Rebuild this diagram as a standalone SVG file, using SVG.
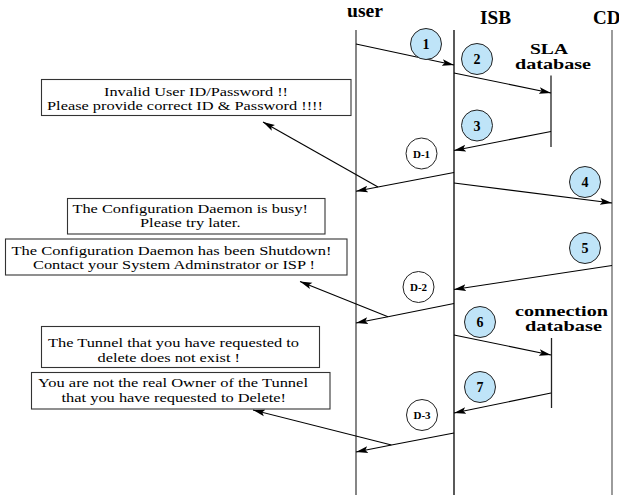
<svg xmlns="http://www.w3.org/2000/svg" width="619" height="499" viewBox="0 0 619 499">
  <defs>
    <style>
      .life { fill: none; stroke-width: 1.3; }
      .msg { fill: none; stroke: #000; stroke-width: 1.1; }
      .head { font-family: "Liberation Serif", "Times New Roman", serif; font-weight: bold; font-size: 19px; fill: #000; }
      .dbhead { font-family: "Liberation Serif", "Times New Roman", serif; font-weight: bold; font-size: 15px; fill: #000; }
      .box { fill: #fff; stroke: #333; stroke-width: 1.1; }
      .note { font-family: "Liberation Serif", "Times New Roman", serif; font-size: 13px; fill: #000; }
      .step { fill: #bfe4f8; stroke: #222; stroke-width: 1; }
      .err { fill: #fff; stroke: #222; stroke-width: 1; }
      .num { font-family: "Liberation Serif", "Times New Roman", serif; font-weight: bold; font-size: 14px; text-anchor: middle; fill: #000; }
      .dnum { font-family: "Liberation Serif", "Times New Roman", serif; font-weight: bold; font-size: 11px; text-anchor: middle; fill: #000; }
    </style>
    <marker id="ah" markerUnits="userSpaceOnUse" markerWidth="13" markerHeight="8" refX="12" refY="4" orient="auto">
      <path d="M0,0.6 L12,4 L0,7.4 L2.5,4 z" fill="#000"/>
    </marker>
  </defs>

  <!-- lifeline headers -->
  <g id="hdr-user"><text class="head" x="347" y="17" textLength="36" lengthAdjust="spacingAndGlyphs">user</text></g>
  <g id="hdr-isb"><text class="head" x="480" y="23.5" textLength="31" lengthAdjust="spacingAndGlyphs">ISB</text></g>
  <g id="hdr-cd"><text class="head" x="593" y="23.5">CD</text></g>
  <g id="hdr-sla">
    <text class="dbhead" x="530" y="54" textLength="38" lengthAdjust="spacingAndGlyphs">SLA</text>
    <text class="dbhead" x="515" y="69" textLength="76" lengthAdjust="spacingAndGlyphs">database</text>
  </g>
  <g id="hdr-conn">
    <text class="dbhead" x="515" y="316" textLength="93" lengthAdjust="spacingAndGlyphs">connection</text>
    <text class="dbhead" x="525" y="331" textLength="77" lengthAdjust="spacingAndGlyphs">database</text>
  </g>

  <!-- lifelines -->
  <g id="lifelines">
    <line class="life" x1="356" y1="30" x2="356" y2="495" stroke="#444"/>
    <line class="life" x1="454" y1="30" x2="454" y2="495" stroke="#000"/>
    <line class="life" x1="612" y1="30" x2="612" y2="495" stroke="#666"/>
    <line class="life" x1="551" y1="75.5" x2="551" y2="147" stroke="#222"/>
    <line class="life" x1="551.5" y1="338" x2="551.5" y2="408" stroke="#222"/>
  </g>

  <!-- message boxes -->
  <g id="note-invalid">
    <rect class="box" x="41.5" y="79.5" width="309.5" height="36"/>
    <text class="note" x="104" y="96" textLength="184" lengthAdjust="spacingAndGlyphs">Invalid User ID/Password !!</text>
    <text class="note" x="47" y="109.5" textLength="276" lengthAdjust="spacingAndGlyphs">Please provide correct ID &amp; Password !!!!</text>
  </g>
  <g id="note-busy">
    <rect class="box" x="67.5" y="198.5" width="257.5" height="35.5"/>
    <text class="note" x="72.5" y="213" textLength="235.5" lengthAdjust="spacingAndGlyphs">The Configuration Daemon is busy!</text>
    <text class="note" x="140" y="227" textLength="100.5" lengthAdjust="spacingAndGlyphs">Please try later.</text>
  </g>
  <g id="note-shutdown">
    <rect class="box" x="5.5" y="239" width="341.5" height="36"/>
    <text class="note" x="11.5" y="255" textLength="320" lengthAdjust="spacingAndGlyphs">The Configuration Daemon has been Shutdown!</text>
    <text class="note" x="33" y="269" textLength="282" lengthAdjust="spacingAndGlyphs">Contact your System Adminstrator or ISP !</text>
  </g>
  <g id="note-notunnel">
    <rect class="box" x="41.5" y="326.5" width="278" height="41"/>
    <text class="note" x="48" y="347.3" textLength="251" lengthAdjust="spacingAndGlyphs">The Tunnel that you have requested to</text>
    <text class="note" x="97.5" y="362" textLength="142.5" lengthAdjust="spacingAndGlyphs">delete does not exist !</text>
  </g>
  <g id="note-owner">
    <rect class="box" x="31.5" y="372.5" width="298.5" height="36.5"/>
    <text class="note" x="38" y="386.7" textLength="270" lengthAdjust="spacingAndGlyphs">You are not the real Owner of the Tunnel</text>
    <text class="note" x="61.5" y="401.7" textLength="224.5" lengthAdjust="spacingAndGlyphs">that you have requested to Delete!</text>
  </g>

  <!-- connectors -->
  <g id="connectors">
    <line class="msg" x1="356" y1="44" x2="454" y2="65" marker-end="url(#ah)"/>
    <line class="msg" x1="454" y1="73" x2="551" y2="93" marker-end="url(#ah)"/>
    <line class="msg" x1="551" y1="131.5" x2="454" y2="150.5" marker-end="url(#ah)"/>
    <line class="msg" x1="454" y1="172.5" x2="378" y2="187"/>
    <line class="msg" x1="378" y1="187" x2="356" y2="191.3" marker-end="url(#ah)"/>
    <line class="msg" x1="378" y1="187" x2="263" y2="122" marker-end="url(#ah)"/>
    <line class="msg" x1="454" y1="183" x2="612" y2="203" marker-end="url(#ah)"/>
    <line class="msg" x1="612" y1="265.5" x2="454" y2="289.5" marker-end="url(#ah)"/>
    <line class="msg" x1="454" y1="303.5" x2="388" y2="316.7"/>
    <line class="msg" x1="388" y1="316.7" x2="356" y2="323" marker-end="url(#ah)"/>
    <line class="msg" x1="388" y1="316.7" x2="300" y2="281.5" marker-end="url(#ah)"/>
    <line class="msg" x1="454" y1="335" x2="551" y2="355" marker-end="url(#ah)"/>
    <line class="msg" x1="551" y1="393" x2="454" y2="413" marker-end="url(#ah)"/>
    <line class="msg" x1="454" y1="433" x2="391.5" y2="445"/>
    <line class="msg" x1="391.5" y1="445" x2="356" y2="452" marker-end="url(#ah)"/>
    <line class="msg" x1="391.5" y1="445" x2="253" y2="410" marker-end="url(#ah)"/>
  </g>

  <!-- step markers -->
  <g id="step-1"><circle class="step" cx="426" cy="44" r="15.5"/><text class="num" x="426" y="49">1</text></g>
  <g id="step-2"><circle class="step" cx="477" cy="59" r="15.5"/><text class="num" x="477" y="64">2</text></g>
  <g id="step-3"><circle class="step" cx="477" cy="125.5" r="15.5"/><text class="num" x="477" y="130.5">3</text></g>
  <g id="step-4"><circle class="step" cx="585" cy="182" r="15.5"/><text class="num" x="585" y="187">4</text></g>
  <g id="step-5"><circle class="step" cx="585" cy="248" r="15.5"/><text class="num" x="585" y="253">5</text></g>
  <g id="step-6"><circle class="step" cx="480" cy="322" r="15.5"/><text class="num" x="480" y="327">6</text></g>
  <g id="step-7"><circle class="step" cx="480" cy="387" r="15.5"/><text class="num" x="480" y="392">7</text></g>
  <g id="step-d1"><circle class="err" cx="421.5" cy="153.5" r="15.5"/><text class="dnum" x="421.5" y="157.5">D-1</text></g>
  <g id="step-d2"><circle class="err" cx="418.5" cy="287" r="15.5"/><text class="dnum" x="418.5" y="291">D-2</text></g>
  <g id="step-d3"><circle class="err" cx="422" cy="415" r="15.5"/><text class="dnum" x="422" y="419">D-3</text></g>
</svg>
